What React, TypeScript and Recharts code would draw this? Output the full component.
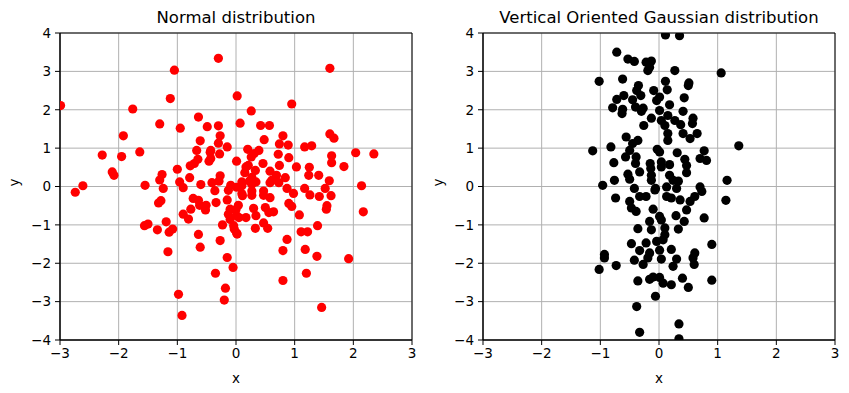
import { ScatterChart, Scatter, XAxis, YAxis, CartesianGrid, ReferenceArea } from "recharts";

const X_TICKS = [-3, -2, -1, 0, 1, 2, 3];
const Y_TICKS = [-4, -3, -2, -1, 0, 1, 2, 3, 4];

// left panel: round cloud
const normalPoints: [number, number][] = [
  [-2.99, 2.11], [-0.30, 3.34], [-1.05, 3.03], [0.02, 2.36], [-1.12, 2.29], [-1.76, 2.02],
  [-0.64, 1.81], [-1.30, 1.63], [-0.49, 1.56], [-0.30, 1.58], [-0.95, 1.52], [0.07, 1.65],
  [-1.92, 1.32], [-0.27, 1.32], [-0.61, 1.19], [-0.30, 1.13], [-0.15, 1.03], [-2.28, 0.82],
  [-1.95, 0.78], [-1.64, 0.90], [-0.67, 0.94], [-0.43, 0.94], [-0.28, 0.85], [-0.43, 0.73],
  [-0.46, 0.66], [0.01, 0.66], [-0.65, 0.71], [-0.71, 0.60], [-0.78, 0.54], [-2.11, 0.38],
  [-2.08, 0.29], [-1.26, 0.31], [-1.30, 0.17], [-1.0, 0.45], [-0.96, 0.12], [-0.79, 0.23],
  [-2.61, 0.02], [-2.74, -0.15], [-1.55, 0.03], [-1.24, -0.05], [-0.90, -0.03], [-0.60, 0.05],
  [-0.41, 0.10], [-0.27, 0.28], [-0.29, 0.14], [-0.09, 0.03],
  [-0.36, -0.11], [-0.73, -0.31], [-1.32, -0.43], [-1.28, -0.37], [-0.62, -0.49], [-0.51, -0.49],
  [-0.34, -0.42], [-0.52, -0.61], [-0.77, -0.59], [-0.90, -0.72], [-0.81, -0.85], [-0.15, -0.35],
  [-0.10, -0.59], [-0.13, -0.72], [-0.10, -0.86], [-1.56, -1.02], [-1.50, -0.98], [-1.34, -1.13],
  [-1.19, -0.92], [-1.14, -1.19], [-1.08, -1.11], [-0.64, -1.25], [-0.23, -1.0], [-0.03, -1.11],
  [0.01, -1.21], [-0.27, -1.41], [-0.61, -1.58], [-1.16, -1.70], [-0.15, -1.85], [-0.05, -2.11],
  [-0.35, -2.26], [-0.18, -2.65], [-0.20, -2.96], [-0.98, -2.81], [-0.92, -3.36], [0.01, -0.76],
  [1.60, 3.08], [0.95, 2.15], [0.26, 1.97], [0.42, 1.59], [0.57, 1.59], [0.48, 1.22],
  [0.80, 1.32], [0.74, 1.11], [0.89, 1.08], [1.60, 1.37], [1.67, 1.26], [1.17, 1.03],
  [1.29, 1.06], [2.04, 0.88], [2.35, 0.85], [1.63, 0.80], [1.63, 0.62], [1.84, 0.52],
  [0.20, 0.97], [0.31, 0.86], [0.39, 0.94], [0.26, 0.77], [0.46, 0.60], [0.72, 0.84],
  [0.74, 0.55], [0.90, 0.75], [1.03, 0.51], [1.25, 0.50], [1.24, 0.29], [1.41, 0.29],
  [1.59, 0.15], [2.14, 0.02], [0.17, 0.51], [0.33, 0.42], [0.15, 0.36], [0.58, 0.40],
  [0.69, 0.29], [0.84, 0.23], [0.61, 0.16], [0.10, 0.12], [0.23, 0.14], [0.34, 0.12],
  [1.17, -0.05], [1.52, -0.05], [0.87, -0.05], [0.47, -0.12], [0.27, -0.12],
  [2.17, -0.66], [1.26, -0.22], [1.42, -0.26], [1.62, -0.24], [1.55, -0.50], [1.54, -0.59],
  [0.98, -0.18], [0.90, -0.44], [0.95, -0.52], [1.08, -0.74], [1.39, -1.02], [1.11, -1.18],
  [1.22, -1.18], [0.87, -1.38], [0.80, -1.67], [1.18, -1.64], [1.38, -1.82], [1.92, -1.88],
  [1.20, -2.26], [0.80, -2.45], [1.46, -3.15], [0.11, -0.24], [0.27, -0.23], [0.47, -0.23],
  [0.58, -0.29], [0.30, -0.57], [0.50, -0.55], [0.56, -0.68], [0.64, -0.66], [0.34, -0.76],
  [0.47, -0.95], [0.33, -1.09], [0.54, -1.09], [0.05, -0.81], [0.17, -0.81], [-0.04, -1.02],
  [0.02, -1.24], [0.0, -0.60], [0.73, 0.10], [0.58, 0.10], [0.10, 0.02], [0.27, 0.06],
  [-0.44, 0.89], [0.21, 0.55], [0.27, 0.24], [-0.13, -0.10], [0.01, -0.02], [0.10, -0.19],
  [-0.64, -0.36], [0.04, -0.49],
];

// right panel: narrow in x, wide in y
const verticalPoints: [number, number][] = [
  [0.11, 3.95], [0.35, 3.93], [-0.72, 3.50], [-0.53, 3.32], [-0.42, 3.26], [-0.22, 3.24],
  [-0.13, 3.27], [-0.19, 3.02], [-0.16, 3.11], [0.27, 3.02], [1.06, 2.96], [-1.02, 2.74],
  [-0.62, 2.80], [0.11, 2.74], [0.51, 2.70], [0.50, 2.63], [-0.35, 2.63], [-0.38, 2.50],
  [-0.09, 2.50], [0.14, 2.52], [-0.31, 2.37], [-0.60, 2.37], [-0.72, 2.27], [-0.45, 2.26],
  [0.01, 2.33], [-0.04, 2.24], [0.43, 2.31], [0.18, 2.13], [-0.79, 2.05], [-0.62, 2.01],
  [-0.40, 2.07], [-0.27, 2.04], [0.01, 1.98], [0.41, 1.96],
  [-0.63, 1.90], [-0.30, 1.96], [-0.13, 1.78], [0.15, 1.85], [0.04, 1.72], [0.10, 1.59],
  [0.27, 1.72], [0.58, 1.78], [0.57, 1.64], [0.37, 1.61], [-0.26, 1.59], [0.15, 1.38],
  [0.15, 1.20], [0.41, 1.38], [0.53, 1.25], [0.65, 1.38], [-0.56, 1.29], [-0.36, 1.20],
  [-0.45, 1.12], [1.36, 1.06], [-1.13, 0.93], [-0.82, 1.03], [-0.50, 0.94], [-0.57, 0.77],
  [-0.39, 0.77], [-0.03, 0.97], [0.01, 0.90], [0.31, 0.88], [0.77, 0.93], [0.81, 0.68],
  [0.70, 0.73], [0.44, 0.71], [0.47, 0.55], [-0.77, 0.62], [-0.40, 0.60], [-0.15, 0.60],
  [0.04, 0.64], [0.04, 0.51], [0.18, 0.57], [-0.14, 0.47], [-0.33, 0.38], [0.47, 0.36],
  [-0.53, 0.32], [-0.13, 0.29], [0.18, 0.29], [1.16, 0.16], [-0.76, 0.16], [-0.96, 0.03],
  [-0.50, 0.19], [-0.13, 0.16], [0.24, 0.16], [0.33, 0.14], [-0.42, -0.05], [-0.06, -0.05],
  [0.13, -0.01], [0.30, -0.05], [0.70, -0.01],
  [-0.74, -0.30], [-0.50, -0.39], [-0.47, -0.56], [-0.39, -0.65], [-0.33, -0.26], [-0.22, -0.26],
  [-0.10, -0.59], [-0.07, -0.09], [0.13, -0.26], [0.21, -0.30], [0.36, -0.35], [0.53, -0.39],
  [0.61, -0.26], [0.73, -0.13], [0.47, -0.61], [1.14, -0.36], [0.77, -0.82], [0.29, -0.76],
  [0.43, -0.91], [0.01, -0.78], [0.04, -0.87], [-0.16, -0.91], [-0.13, -1.13], [-0.36, -1.10],
  [0.10, -1.08], [0.33, -1.11], [0.10, -1.26], [0.07, -1.39], [-0.04, -1.43], [-0.22, -1.47],
  [-0.47, -1.49], [0.90, -1.51], [-0.33, -1.67], [-0.16, -1.73], [0.01, -1.66], [0.21, -1.64],
  [0.61, -1.73], [0.58, -1.86], [0.30, -1.89], [0.04, -1.89], [-0.19, -1.86], [-0.42, -1.92],
  [-0.93, -1.77], [-0.93, -1.86], [-0.73, -2.06], [-0.27, -2.03], [0.24, -2.08],
  [-1.02, -2.16], [0.60, -2.03], [-0.36, -2.46], [-0.16, -2.42], [-0.10, -2.36], [0.01, -2.37],
  [0.07, -2.52], [0.21, -2.56], [0.40, -2.39], [0.50, -2.63], [0.90, -2.44], [-0.06, -2.86],
  [-0.38, -3.13], [0.34, -3.58], [-0.33, -3.80], [0.34, -3.97],
];

const FONT = "'DejaVu Sans', sans-serif";
const fmt = (v: number) => String(v).replace("-", "\u2212");
const tickStyle = { fontFamily: FONT, fontSize: 13.5, fill: "#000" };

function Panel({ title, points, color, left, width, yAxisWidth, rightMargin }: {
  title: string;
  points: [number, number][];
  color: string;
  left: number;
  width: number;
  yAxisWidth: number;
  rightMargin: number;
}) {
  const data = points.map(([x, y]) => ({ x, y }));
  const plotWidth = width - yAxisWidth - rightMargin;
  return (
    <div style={{ position: "absolute", left, top: 0, width, height: 393 }}>
      <div
        style={{
          position: "absolute",
          top: 8,
          left: yAxisWidth,
          width: plotWidth,
          textAlign: "center",
          fontFamily: FONT,
          fontSize: 16.5,
          lineHeight: "20px",
          color: "#000",
          whiteSpace: "nowrap",
        }}
      >
        {title}
      </div>
      <ScatterChart width={width} height={393} margin={{ top: 33, right: rightMargin, bottom: 0, left: 0 }}>
        <CartesianGrid stroke="#b0b0b0" strokeWidth={1} />
        <XAxis
          type="number"
          dataKey="x"
          domain={[-3, 3]}
          ticks={X_TICKS}
          allowDataOverflow
          height={53}
          tickSize={5}
          tickMargin={3}
          stroke="#000"
          tick={tickStyle}
          tickFormatter={fmt}
          label={{ value: "x", position: "insideBottom", offset: 10, fill: "#000", fontFamily: FONT, fontSize: 13.5 }}
        />
        <YAxis
          type="number"
          dataKey="y"
          domain={[-4, 4]}
          ticks={Y_TICKS}
          allowDataOverflow
          width={yAxisWidth}
          tickSize={5}
          tickMargin={4}
          stroke="#000"
          tick={tickStyle}
          tickFormatter={fmt}
          label={{ value: "y", angle: -90, position: "insideLeft", offset: 14, fill: "#000", fontFamily: FONT, fontSize: 13.5 }}
        />
        <ReferenceArea x1={-3} x2={3} y1={-4} y2={4} fill="none" stroke="#000" strokeWidth={1} />
        <Scatter
          data={data}
          isAnimationActive={false}
          shape={(p: any) => <circle cx={p.cx} cy={p.cy} r={4.6} fill={color} />}
        />
      </ScatterChart>
    </div>
  );
}

export default function App() {
  return (
    <div style={{ position: "absolute", left: 0, top: 0, width: 849, height: 393, background: "#fff" }}>
      <Panel title="Normal distribution" points={normalPoints} color="#ff0000" left={0} width={424} yAxisWidth={60} rightMargin={12} />
      <Panel title="Vertical Oriented Gaussian distribution" points={verticalPoints} color="#000000" left={424} width={425} yAxisWidth={59} rightMargin={14} />
    </div>
  );
}
